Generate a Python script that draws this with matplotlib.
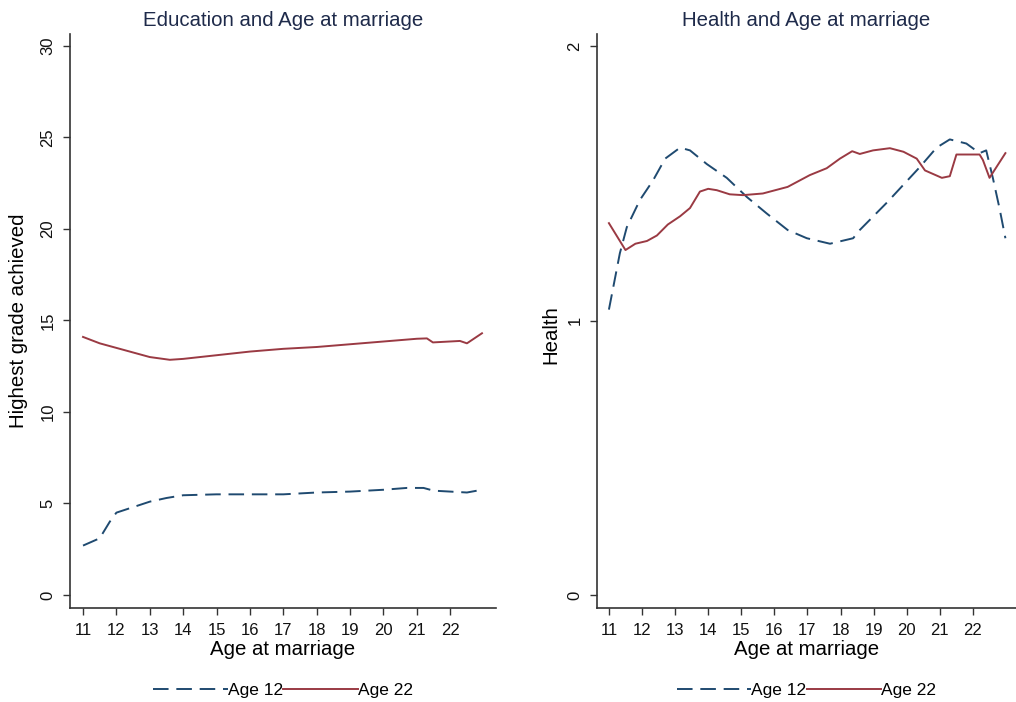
import matplotlib
matplotlib.use("Agg")
import matplotlib.pyplot as plt

plt.rcParams["font.family"] = ["Liberation Sans", "DejaVu Sans"]

# Education panel: highest grade achieved by age at marriage
edu_age = [11.0, 11.5, 11.8, 12.0, 12.5, 13.0, 13.5, 14.0, 15.0, 16.0, 17.0, 18.0,
           19.0, 20.0, 20.7, 21.2, 21.5, 22.0, 22.5, 22.95]
edu_age12 = [2.7, 3.1, 4.0, 4.5, 4.8, 5.1, 5.3, 5.45, 5.5, 5.5, 5.5, 5.6,
             5.65, 5.75, 5.85, 5.85, 5.7, 5.65, 5.6, 5.75]

edu_age_b = [11.0, 11.5, 12.0, 12.5, 13.0, 13.6, 14.0, 15.0, 16.0, 17.0, 18.0, 19.0,
             20.0, 21.0, 21.3, 21.48, 22.29, 22.5, 22.95]
edu_age22 = [14.1, 13.75, 13.5, 13.25, 13.0, 12.85, 12.9, 13.1, 13.3, 13.45, 13.55, 13.7,
             13.85, 14.0, 14.02, 13.8, 13.88, 13.75, 14.3]

# Health panel
hl_age_a = [11.0, 11.33, 11.54, 11.94, 12.33, 12.7, 13.15, 13.45, 13.96, 14.56, 15.17,
            15.77, 16.4, 16.98, 17.68, 18.38, 18.58, 19.4, 20.4, 20.9, 21.3, 21.8,
            22.2, 22.4, 22.6, 22.8, 22.98]
hl_age12 = [1.04, 1.245, 1.34, 1.44, 1.51, 1.59, 1.63, 1.62, 1.57, 1.52, 1.45,
            1.39, 1.33, 1.30, 1.28, 1.30, 1.33, 1.43, 1.56, 1.63, 1.66, 1.645,
            1.61, 1.62, 1.52, 1.41, 1.30]

hl_age_b = [11.0, 11.5, 11.8, 12.15, 12.45, 12.78, 13.15, 13.45, 13.75, 14.0, 14.26,
            14.65, 15.05, 15.65, 16.4, 17.07, 17.58, 17.98, 18.35, 18.58, 18.98,
            19.49, 19.9, 20.3, 20.55, 21.06, 21.3, 21.5, 22.2, 22.3, 22.5, 22.98]
hl_age22 = [1.355, 1.257, 1.28, 1.29, 1.31, 1.35, 1.38, 1.41, 1.47, 1.48, 1.475,
            1.46, 1.457, 1.463, 1.487, 1.53, 1.555, 1.59, 1.617, 1.607, 1.62,
            1.628, 1.615, 1.59, 1.547, 1.52, 1.526, 1.605, 1.605, 1.585, 1.52, 1.61]

xticks = list(range(11, 23))

navy = "#1f4a70"
maroon = "#9a3a43"
axis_col = "#333333"
title_col = "#1e2a4a"

fig = plt.figure(figsize=(10.16, 7.02), dpi=100)
ax1 = fig.add_axes([70 / 1016, 94 / 702, 426 / 1016, 574 / 702])
ax2 = fig.add_axes([597 / 1016, 94 / 702, 419 / 1016, 574 / 702])


def style(ax, title, ylabel, yticks, ylim, xlim):
    ax.set_xlim(*xlim)
    ax.set_ylim(*ylim)
    ax.set_xticks(xticks)
    ax.set_yticks(yticks)
    ax.set_yticklabels([str(t) for t in yticks], rotation=90, va="center")
    for s in ["top", "right"]:
        ax.spines[s].set_visible(False)
    for s in ["left", "bottom"]:
        ax.spines[s].set_color(axis_col)
        ax.spines[s].set_linewidth(1.2)
    ax.tick_params(direction="out", length=5, width=1, color=axis_col,
                   labelsize=12, labelcolor="#111111", pad=5.5)
    ax.set_title(title, fontsize=14.7, color=title_col, pad=6)
    ax.set_xlabel("Age at marriage", fontsize=14.7, labelpad=2)
    ax.set_ylabel(ylabel, fontsize=14.7)
    ax.legend(loc="center", bbox_to_anchor=(0.5, -0.143), ncol=2, frameon=False,
              handlelength=4.3, handletextpad=0.0, columnspacing=0.0,
              fontsize=12.5)


ax1.plot(edu_age, edu_age12, color=navy, lw=1.4, dashes=(8, 4), label="Age 12")
ax1.plot(edu_age_b, edu_age22, color=maroon, lw=1.4, label="Age 22")
style(ax1, "Education and Age at marriage", "Highest grade achieved",
      [0, 5, 10, 15, 20, 25, 30], (-0.71, 30.65), (10.61, 23.37))
ax1.yaxis.set_label_coords(-0.099, 0.5)

ax2.plot(hl_age_a, hl_age12, color=navy, lw=1.4, dashes=(8, 4), label="Age 12")
ax2.plot(hl_age_b, hl_age22, color=maroon, lw=1.4, label="Age 22")
style(ax2, "Health and Age at marriage", "Health",
      [0, 1, 2], (-0.047, 2.044), (10.64, 23.3))
ax2.yaxis.set_label_coords(-0.088, 0.476)

fig.savefig("out.png", dpi=100, facecolor="white")
